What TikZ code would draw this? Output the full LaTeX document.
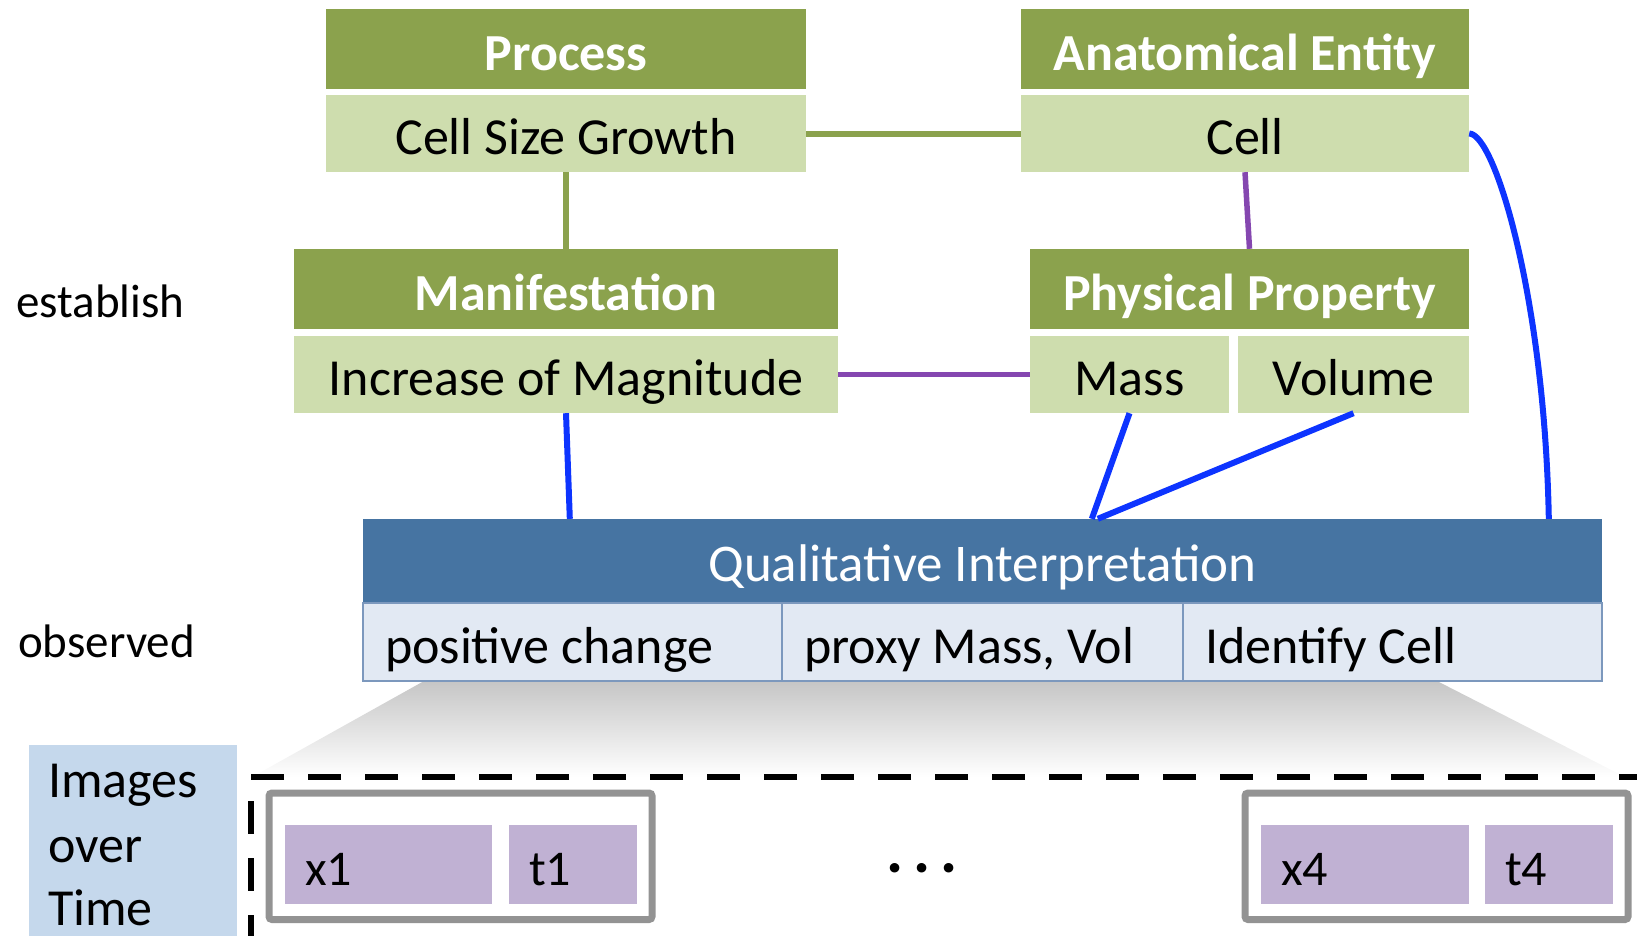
\documentclass[tikz,border=0pt]{standalone}
\usepackage{fontspec}
\setmainfont{Carlito}
\usetikzlibrary{calc}

\definecolor{hdrgreen}{RGB}{139,162,77}
\definecolor{rowgreen}{RGB}{206,221,174}
\definecolor{linkpurple}{RGB}{133,71,176}
\definecolor{linkblue}{RGB}{13,52,255}
\definecolor{qualblue}{RGB}{70,116,162}
\definecolor{qualrow}{RGB}{226,233,243}
\definecolor{qualedge}{RGB}{124,152,189}
\definecolor{imgblue}{RGB}{197,216,236}
\definecolor{lilac}{RGB}{192,177,211}
\definecolor{framegray}{RGB}{147,147,147}

\newcommand\fsz[1]{\fontsize{#1}{#1}\selectfont}

\begin{document}
\begin{tikzpicture}[x=1pt,y=-1pt,
  txt/.style={inner sep=0pt, text height=46pt, text depth=4pt},
  hdr/.style={txt, fill=hdrgreen, text=white, font=\bfseries\fsz{52}, minimum height=80pt},
  val/.style={txt, fill=rowgreen, font=\fsz{52}, minimum height=77pt},
  qhdr/.style={txt, fill=qualblue, text=white, font=\fsz{53}, minimum height=83pt},
  qcell/.style={txt, fill=qualrow, draw=qualedge, line width=1.5pt, font=\fsz{52},
    minimum height=78pt, inner xsep=22pt, align=flush left},
  sample/.style={txt, fill=lilac, font=\fsz{50}, minimum height=79pt, inner xsep=20pt, align=flush left},
  label/.style={inner sep=0pt, anchor=base west, font=\fsz{47}},
  greenlink/.style={draw=hdrgreen, line width=6pt},
  purplelink/.style={draw=linkpurple, line width=5.5pt},
  bluelink/.style={draw=linkblue, line width=6pt},
  frame/.style={draw=framegray, line width=7pt, rounded corners=3pt},
  dashline/.style={draw=black, line width=6.5pt, dash pattern=on 33pt off 24pt, dash phase=49pt}
]
\useasboundingbox (0,0) rectangle (1637,935);
\clip (0,0) rectangle (1637,935);

% ontology boxes
\node[hdr, minimum width=480pt] (process) at (566,49) {Process};
\node[val, minimum width=480pt] (csg) at (566,133.5) {Cell Size Growth};
\node[hdr, minimum width=448pt] (anat) at (1245,49) {Anatomical Entity};
\node[val, minimum width=448pt] (cell) at (1245,133.5) {Cell};
\node[hdr, minimum width=544pt] (manif) at (566,289) {Manifestation};
\node[val, minimum width=544pt] (incr) at (566,374.5) {Increase of Magnitude};
\node[hdr, minimum width=439pt] (phys) at (1249.5,289) {Physical Property};
\node[val, minimum width=199pt] (mass) at (1129.5,374.5) {Mass};
\node[val, minimum width=231pt] (volume) at (1353.5,374.5) {Volume};

% side labels
\node[label] (establish) at (16,317) {establish};
\node[label] (observed) at (18,657) {observed};

% projection of the interpretation onto the image series
\shade[top color=gray!45, bottom color=white]
  (424,681) -- (1437,681) -- (1625,777) -- (252,777) -- cycle;

% qualitative interpretation
\node[qhdr, minimum width=1239pt] (qual) at (982.5,560.5) {Qualitative Interpretation};
\node[qcell, text width=375pt] (qc1) at (572.5,642) {positive change};
\node[qcell, text width=357pt] (qc2) at (982.5,642) {proxy Mass, Vol};
\node[qcell, text width=375pt] (qc3) at (1392.5,642) {Identify Cell};

% images over time
\node[fill=imgblue, inner sep=0pt, minimum width=208pt, minimum height=230pt, anchor=north west] (imgs) at (29,745) {};
\node[label, font=\fsz{52}] (imgt1) at (48,797) {Images};
\node[label, font=\fsz{52}] (imgt2) at (48,862) {over};
\node[label, font=\fsz{52}] (imgt3) at (48,925) {Time};

\draw[dashline] (1660,777) -- (251,777) -- (251,960);

\draw[frame] (269,793) rectangle (652,919.5);
\draw[frame] (1245,793) rectangle (1628,919.5);
\node[sample, text width=167pt] (x1) at (388.5,864.5) {x1};
\node[sample, text width=88pt] (t1) at (573,864.5) {t1};
\node[sample, text width=168pt] (x4) at (1365,864.5) {x4};
\node[sample, text width=88pt] (t4) at (1549,864.5) {t4};
\node[inner sep=0pt, anchor=base, font=\bfseries\fsz{64}] (dots) at (922,872) {.\kern10pt.\kern10pt.};

% connectors
\draw[greenlink] (csg.east) -- (cell.west);
\draw[greenlink] (csg.south) -- (manif.north);
\draw[purplelink] (cell.south) -- (phys.north);
\draw[purplelink] (incr.east) -- (mass.west);

\coordinate (qa) at ($(qual.north west)+(207,0)$);
\coordinate (qb) at ($(qual.north west)+(729,0)$);
\coordinate (qc) at ($(qual.north west)+(735,0)$);
\coordinate (qd) at ($(qual.north west)+(1186,0)$);
\draw[bluelink] (incr.south) -- (qa);
\draw[bluelink] (mass.south) -- (qb);
\draw[bluelink] (volume.south) -- (qc);
\draw[bluelink] (cell.east) .. controls +(26,0) and +(-4,-218) .. (qd);
\end{tikzpicture}
\end{document}
